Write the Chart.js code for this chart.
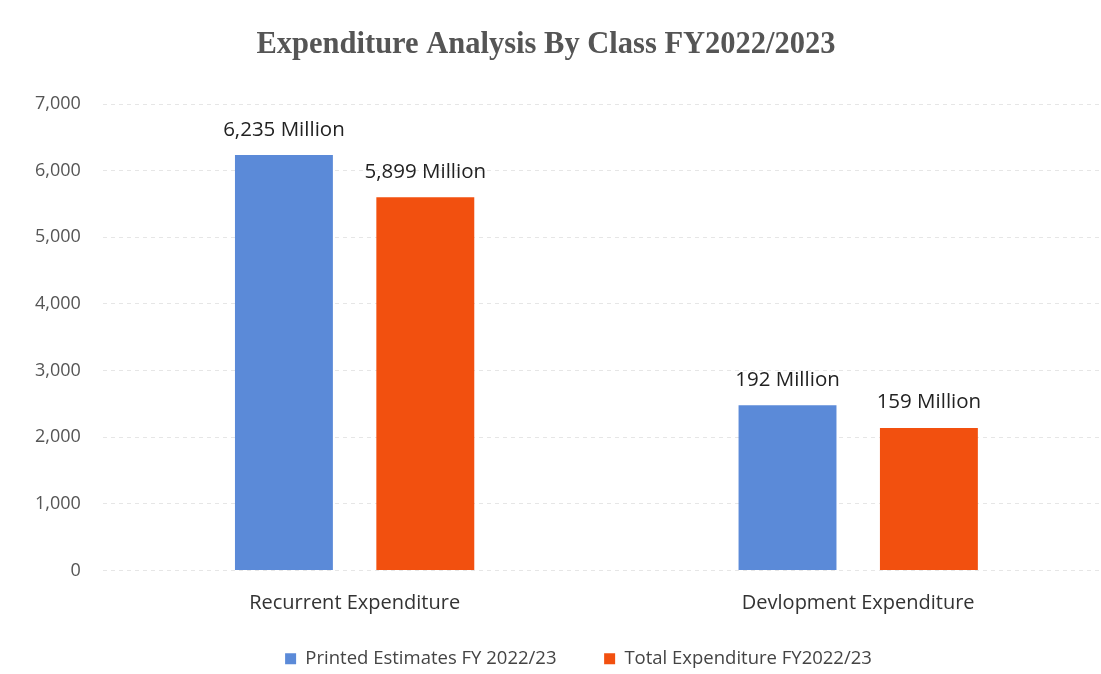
<!DOCTYPE html>
<html>
<head>
<meta charset="utf-8">
<script src="https://cdn.jsdelivr.net/npm/chart.js@4/dist/chart.umd.min.js"></script>
<style>
  html, body { margin: 0; padding: 0; background: #fff; overflow: hidden; }
  #wrap { width: 1101px; height: 674px; position: relative; overflow: hidden; }
</style>
</head>
<body>
<div id="wrap"><canvas id="myChart" width="1110" height="674"></canvas></div>
<script>
var chartTitle = "Expenditure Analysis By Class FY2022/2023";
var categories = ["Recurrent Expenditure", "Devlopment Expenditure"];
var seriesNames = ["Printed Estimates FY 2022/23", "Total Expenditure FY2022/23"];
// bar heights as drawn in the picture
var printedEstimates = [6235, 2480];
var totalExpenditure = [5600, 2140];
// labels printed above the bars
var printedLabels = ["6,235 Million", "192 Million"];
var totalLabels = ["5,899 Million", "159 Million"];
var yTicks = [0, 1000, 2000, 3000, 4000, 5000, 6000, 7000];

var barLabels = {
  id: "barLabels",
  afterDatasetsDraw: function (chart) {
    var ctx = chart.ctx;
    var texts = [printedLabels, totalLabels];
    ctx.save();
    ctx.font = "20.5px 'Open Sans'";
    ctx.fillStyle = "#222";
    ctx.textAlign = "center";
    ctx.textBaseline = "bottom";
    chart.data.datasets.forEach(function (ds, i) {
      chart.getDatasetMeta(i).data.forEach(function (bar, j) {
        ctx.fillText(texts[i][j], bar.x, bar.y - 15);
      });
    });
    ctx.restore();
  }
};

// title drawn by hand so it sits where the original does (slightly left of centre)
var titlePlugin = {
  id: "titlePlugin",
  afterDraw: function (chart) {
    var ctx = chart.ctx;
    ctx.save();
    ctx.font = "bold 30.5px 'Liberation Serif'";
    ctx.fillStyle = "#555";
    ctx.textAlign = "center";
    ctx.textBaseline = "middle";
    ctx.fillText(chartTitle, 546, 45);
    ctx.restore();
  }
};

// nudge the legend a bit right and down
var legendShift = {
  id: "legendShift",
  afterLayout: function (chart) {
    var l = chart.legend;
    l.left += 17; l.right += 17;
    l.top += 7; l.bottom += 7;
  }
};

var ctx = document.getElementById("myChart").getContext("2d");
var chart = new Chart(ctx, {
  type: "bar",
  data: {
    labels: categories,
    datasets: [
      {
        label: seriesNames[0],
        backgroundColor: "#5b8ad8",
        data: printedEstimates
      },
      {
        label: seriesNames[1],
        backgroundColor: "#f2500f",
        data: totalExpenditure
      }
    ]
  },
  options: {
    responsive: false,
    animation: false,
    categoryPercentage: 0.5615,
    barPercentage: 0.6926,
    layout: { padding: { left: 13, right: 0, top: 104, bottom: 3 } },
    plugins: {
      title: { display: false },
      legend: {
        position: "bottom",
        labels: {
          color: "#444",
          font: { family: "'Open Sans'", size: 18.5 },
          boxWidth: 11,
          boxHeight: 11,
          padding: 14,
          generateLabels: function (chart) {
            var items = Chart.defaults.plugins.legend.labels.generateLabels(chart);
            // wider gap between the two entries, as in the original
            items[0].text += "       ";
            return items;
          }
        }
      },
      tooltip: { enabled: false }
    },
    scales: {
      x: {
        grid: { display: false },
        border: { display: false },
        ticks: { color: "#333", font: { family: "'Open Sans'", size: 20 }, padding: 13 }
      },
      y: {
        min: 0,
        max: 7000,
        afterBuildTicks: function (axis) {
          axis.ticks = yTicks.map(function (v) { return { value: v }; });
        },
        grid: { color: "#e6e6e6", drawTicks: false },
        border: { display: false, dash: [4, 4] },
        ticks: {
          color: "#555",
          font: { family: "'Open Sans'", size: 18 },
          padding: 22,
          callback: function (v) { return v.toLocaleString("en-US"); }
        }
      }
    }
  },
  plugins: [barLabels, titlePlugin, legendShift]
});
</script>
</body>
</html>
